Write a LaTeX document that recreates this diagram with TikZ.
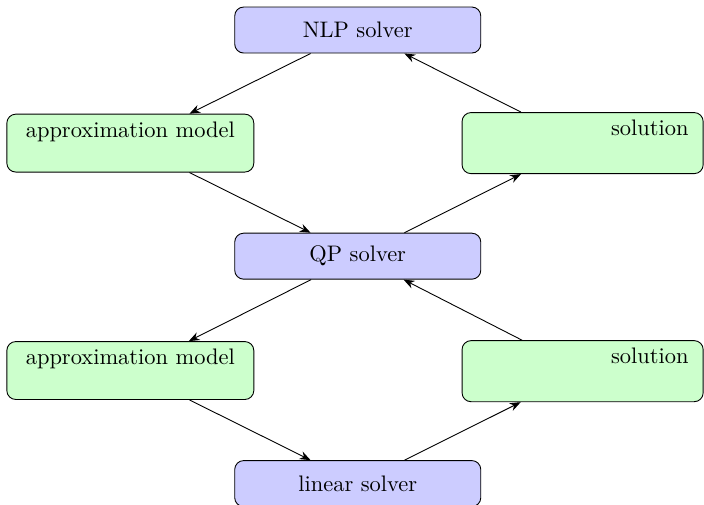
\documentclass[tikz,border=0pt]{standalone}
\usepackage{tikz}
\usetikzlibrary{arrows.meta,positioning}
\tikzset{
    solver/.style={
        draw,
        rounded corners,
        fill=blue!20,
        minimum width=109.6pt,
        minimum height=20.5pt,
        inner sep=0pt
    },
    model/.style={
        draw,
        rounded corners,
        fill=green!20,
        text width=97pt,
        align=center,
        inner xsep=6.5pt,
        inner ysep=3.33pt,
        text depth=12.2pt
    },
    result/.style={
        model,
        align=right,
        text width=94.4pt,
        inner xsep=6.5pt,
        text depth=13.6pt
    },
    link/.style={
        -{Stealth[length=1.7mm,width=1.3mm]},
        line width=0.4pt
    }
}
\begin{document}
\begin{tikzpicture}

    % Cadre
    \useasboundingbox (0,0) rectangle (11.02,-7.90);

    % Solveurs
    \node[solver] (nlp) at (5.60,-0.47) {NLP solver};
    \node[solver] (qp) at (5.60,-4.01) {QP solver};
    \node[solver] (lin) at (5.60,-7.57) {linear solver};

    % Modeles et solutions
    \node[model] (approxA) at (2.04,-2.24) {approximation model};
    \node[result] (solA) at (9.12,-2.24) {solution};
    \node[model] (approxB) at (2.04,-5.80) {approximation model};
    \node[result] (solB) at (9.12,-5.81) {solution};

    % Boucle du haut
    \draw[link] (nlp) -- (approxA);
    \draw[link] (approxA) -- (qp);
    \draw[link] (qp) -- (solA);
    \draw[link] (solA) -- (nlp);

    % Boucle du bas
    \draw[link] (qp) -- (approxB);
    \draw[link] (approxB) -- (lin);
    \draw[link] (lin) -- (solB);
    \draw[link] (solB) -- (qp);

\end{tikzpicture}
\end{document}
